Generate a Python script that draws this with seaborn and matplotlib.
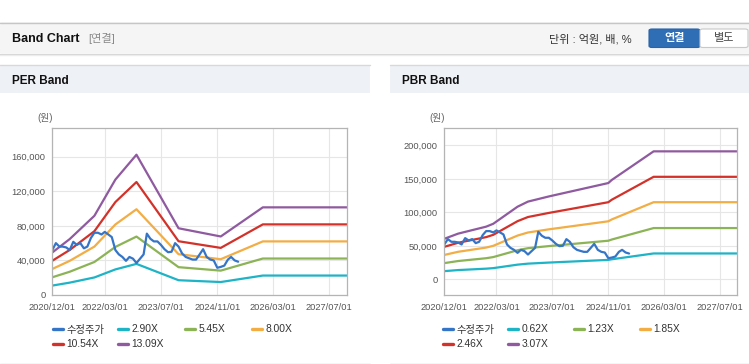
import pandas as pd
import matplotlib
matplotlib.use('Agg')
import matplotlib.pyplot as plt
import matplotlib.dates as mdates
from matplotlib.patches import Rectangle, FancyBboxPatch
from matplotlib.lines import Line2D
from matplotlib.ticker import FuncFormatter
import seaborn as sns

# adjusted close (monthly, won)
price_dates = pd.date_range('2020-12-01', periods=54, freq='MS')
price = [52000, 60000, 56000, 56000, 55000, 52000, 61500, 58000, 60000, 54000,
         56000, 66000, 72000, 72000, 70000, 73000, 70000, 67000, 52000, 47000,
         44000, 39500, 44000, 42000, 37000, 42000, 47000, 71000, 65000, 62000,
         62000, 58000, 53000, 49500, 50000, 60000, 56000, 48000, 44000, 42500,
         41000, 41000, 47000, 53000, 44000, 41000, 40000, 31500, 32500, 34000,
         41000, 44000, 40000, 38500]

# PER band vertices
per_dates = pd.to_datetime(['2020-12-01', '2021-05-01', '2021-12-01', '2022-06-01', '2022-12-01',
                            '2023-12-01', '2024-12-01', '2025-12-01', '2027-12-01'])
per_290 = [10900, 14300, 20300, 29600, 36000, 17100, 15000, 22500, 22500]
per_545 = [20500, 26900, 38200, 55600, 67600, 32200, 28200, 42200, 42200]
per_800 = [30100, 39500, 56000, 81600, 99200, 47200, 41400, 62000, 62000]
per_1054 = [39600, 52100, 73800, 107500, 130700, 62200, 54500, 81700, 81700]
per_1309 = [49200, 64700, 91600, 133500, 162300, 77200, 67700, 101400, 101400]

# PBR band vertices
pbr_dates = pd.to_datetime(['2020-12-01', '2021-04-01', '2021-12-01', '2022-02-01', '2022-09-01',
                            '2022-12-01', '2023-06-01', '2024-11-01', '2024-12-01', '2025-12-01',
                            '2027-12-01'])
pbr_062 = [12200, 13800, 15900, 16700, 21900, 23400, 25000, 29000, 29900, 38600, 38600]
pbr_123 = [24200, 27300, 31500, 33200, 43400, 46500, 49600, 57600, 59400, 76500, 76500]
pbr_185 = [36400, 41100, 47400, 50000, 65300, 69900, 74600, 86600, 89400, 115100, 115100]
pbr_246 = [48500, 54600, 63000, 66400, 86800, 93000, 99100, 115100, 118800, 153000, 153000]
pbr_307 = [60500, 68200, 78600, 82900, 108400, 116000, 123700, 143700, 148300, 191000, 191000]

tick_dates = pd.to_datetime(['2020-12-01', '2022-03-01', '2023-07-01', '2024-11-01', '2026-03-01', '2027-07-01'])

per_labels = ['2.90X', '5.45X', '8.00X', '10.54X', '13.09X']
pbr_labels = ['0.62X', '1.23X', '1.85X', '2.46X', '3.07X']
band_colors = ['#1fb3c6', '#8cb356', '#f2ad45', '#d2322a', '#8f5a9f']
price_color = '#3575c8'

sns.set_style('white')
plt.rcParams['font.family'] = ['Liberation Sans', 'Noto Sans CJK KR']

W, H = 749, 364
fig = plt.figure(figsize=(W / 100, H / 100), dpi=100)
fig.patch.set_facecolor('white')


def fx(x):
    return x / W


def fy(y):
    return 1 - y / H


def rect(x0, y0, x1, y1, **kw):
    fig.add_artist(Rectangle((fx(x0), fy(y1)), (x1 - x0) / W, (y1 - y0) / H,
                             transform=fig.transFigure, **kw))


def hline(x0, x1, y, color, lw=1):
    fig.add_artist(Line2D([fx(x0), fx(x1)], [fy(y), fy(y)], transform=fig.transFigure,
                          color=color, lw=lw))


# page header
rect(0, 22.5, W, 53, facecolor='#f5f5f5', edgecolor='none')
hline(0, W, 22.5, '#c6c6c6')
hline(0, W, 53.5, '#d4d4d4')
hline(0, W, 54.5, '#ececec')
fig.text(fx(12), fy(39), 'Band Chart', fontsize=9, fontweight='bold', color='#111', va='center')
fig.text(fx(88), fy(39), '[연결]', fontsize=8, color='#8a8a8a', va='center')
fig.text(fx(549), fy(39), '단위 : 억원, 배, %', fontsize=8, color='#333', va='center')
fig.add_artist(FancyBboxPatch((fx(649), fy(47.5)), 51 / W, 18.5 / H, transform=fig.transFigure,
                              boxstyle='round,pad=0,rounding_size=0.004',
                              facecolor='#2f6db5', edgecolor='#2a63a6', lw=0.8))
fig.add_artist(FancyBboxPatch((fx(700), fy(47.5)), 48 / W, 18.5 / H, transform=fig.transFigure,
                              boxstyle='round,pad=0,rounding_size=0.004',
                              facecolor='white', edgecolor='#c8c8c8', lw=0.8))
fig.text(fx(674.5), fy(38.5), '연결', fontsize=8, fontweight='bold', color='white', ha='center', va='center')
fig.text(fx(724), fy(38.5), '별도', fontsize=8, color='#444', ha='center', va='center')


def draw_panel(x0, x1, title, ax_box, dates, bands, labels, ylim, yticks, unit_x, legend_x):
    rect(x0, 64.5, x1, 93, facecolor='#eef1f6', edgecolor='none')
    hline(x0, x1, 64.5, '#d8d8d8')
    hline(x0, x1, 363.5, '#d0d0d0')
    fig.text(fx(x0 + 11.5), fy(80.5), title, fontsize=8.5, fontweight='bold', color='#111', va='center')
    fig.text(fx(unit_x), fy(118.5), '(원)', fontsize=7, color='#666', va='center')

    left, top, right, bottom = ax_box
    ax = fig.add_axes([fx(left), fy(bottom), (right - left) / W, (bottom - top) / H])
    ax.set_facecolor('white')
    for vals, c in zip(bands, band_colors):
        sns.lineplot(x=dates, y=vals, ax=ax, color=c, lw=1.6, legend=False)
    sns.lineplot(x=price_dates, y=price, ax=ax, color=price_color, lw=1.6, legend=False)

    ax.set_xlim(pd.Timestamp('2020-12-01'), pd.Timestamp('2027-12-01'))
    ax.set_ylim(*ylim)
    ax.set_xticks(tick_dates)
    ax.xaxis.set_major_formatter(mdates.DateFormatter('%Y/%m/%d'))
    ax.set_yticks(yticks)
    ax.yaxis.set_major_formatter(FuncFormatter(lambda v, p: f'{v:,.0f}'))
    ax.grid(True, color='#e6e6e6', lw=0.8)
    ax.set_axisbelow(True)
    for s in ax.spines.values():
        s.set_color('#b4b4b4')
        s.set_linewidth(0.9)
    ax.tick_params(axis='both', length=2.8, width=0.8, color='#b4b4b4', labelsize=6.7,
                   labelcolor='#555', pad=2)
    ax.tick_params(axis='x', pad=3)
    ax.set_xlabel('')
    ax.set_ylabel('')

    # legend, two rows, fixed columns
    items = [('수정주가', price_color)] + list(zip(labels, band_colors))
    for i, (lab, c) in enumerate(items):
        row, col = divmod(i, 4)
        fig.legend(handles=[Line2D([], [], color=c, lw=2.4)], labels=[lab],
                   loc='center left', bbox_to_anchor=(fx(legend_x[col]), fy(329.5 + row * 14.7)),
                   frameon=False, fontsize=7.4, handlelength=0.95, handletextpad=0.35,
                   borderpad=0, borderaxespad=0, labelcolor='#333')
    return ax


draw_panel(0, 370, 'PER Band', (52.3, 128, 347, 295), per_dates,
           [per_290, per_545, per_800, per_1054, per_1309], per_labels,
           (0, 193200), [0, 40000, 80000, 120000, 160000], 37, [53, 118, 185, 252])

draw_panel(390, W, 'PBR Band', (444.3, 128.3, 737.3, 295), pbr_dates,
           [pbr_062, pbr_123, pbr_185, pbr_246, pbr_307], pbr_labels,
           (-23400, 225400), [0, 50000, 100000, 150000, 200000], 429, [443, 508, 574, 640])

fig.savefig('out.png', dpi=100, facecolor='white')
